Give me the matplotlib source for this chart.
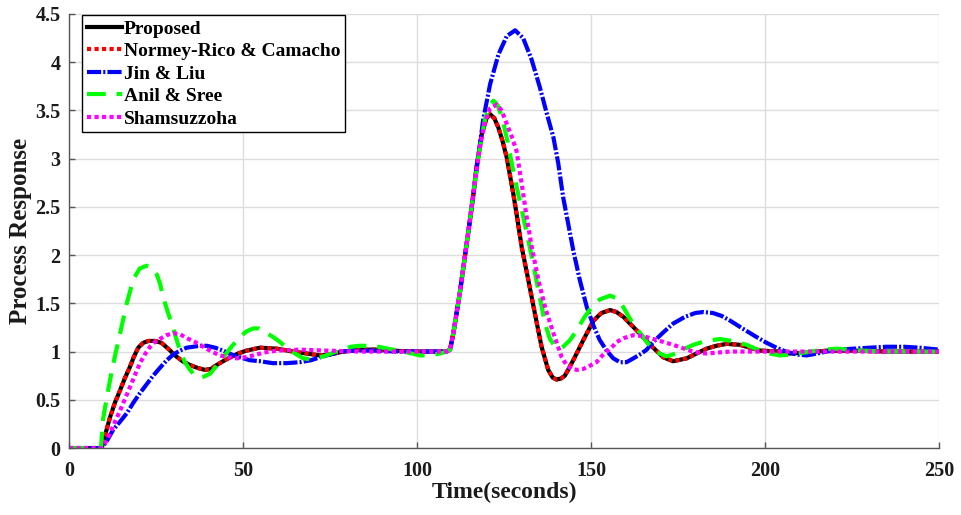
import matplotlib
matplotlib.use("Agg")
import matplotlib.pyplot as plt

# ---------------- data ----------------
t_prop = [0, 9.4, 10.5, 11.8, 13.2, 14.7, 16.0, 17.5, 18.7, 19.9, 21.3, 22.8, 24.7, 26.6, 28.5,
          30.5, 32.6, 34.8, 37.0, 39.1, 40.8, 42.4, 44.3, 46.3, 48.6, 51.0, 54.9, 59.7, 64.4,
          68.3, 72.0, 75.0, 78.8, 83.6, 88, 92, 100, 108.5, 109.5, 110.5, 112.4, 115.2, 116.2,
          117.1, 118.6, 120.0, 121.0, 122.2, 123.4, 124.6, 125.8, 127.7, 128.6, 130.1, 132.0,
          133.9, 135.8, 137.7, 139.0, 140.1, 141.3, 142.5, 144.9, 147.8, 150.7, 153.0, 155.5,
          157.3, 159.3, 163.1, 167.0, 170.8, 173.6, 177.5, 180.3, 183.2, 186, 189, 192.8, 195.7,
          198.6, 204.3, 207, 212, 218, 225, 235, 250]
y_prop = [0, 0, 0.15, 0.32, 0.47, 0.60, 0.72, 0.84, 0.95, 1.04, 1.09, 1.11, 1.11, 1.09, 1.03,
          0.96, 0.90, 0.86, 0.83, 0.81, 0.82, 0.86, 0.90, 0.94, 0.98, 1.01, 1.04, 1.03, 1.00,
          0.98, 0.96, 0.97, 1.00, 1.02, 1.02, 1.01, 1.0, 1.0, 1.02, 1.2, 1.63, 2.36, 2.63,
          2.91, 3.25, 3.42, 3.46, 3.42, 3.32, 3.18, 3.01, 2.63, 2.43, 2.08, 1.74,
          1.39, 1.05, 0.81, 0.73, 0.71, 0.72, 0.75, 0.91, 1.12, 1.32, 1.40, 1.43,
          1.41, 1.36, 1.22, 1.07, 0.94, 0.90, 0.93, 0.98, 1.03, 1.06, 1.08, 1.07, 1.04,
          1.01, 1.00, 0.98, 0.99, 1.01, 1.01, 1.0, 1.0]

t_nrc = list(t_prop)
y_nrc = list(y_prop)

t_jin = [0, 9.4, 11.0, 12.7, 14.6, 16.6, 18.5, 20.4, 22.3, 24.2, 26.1, 28.1, 30.0, 31.9, 33.8,
         35.7, 37.6, 39.6, 42.0, 44.3, 46.7, 49.1, 52.0, 54.9, 58.5, 62.5, 66.4, 69.5, 72.1,
         75.0, 77.9, 82, 87.4, 95, 108.5, 109.5, 110.5, 112.4, 115.2, 117.0, 119.0, 121.0,
         123.4, 125.8, 128.2, 130.5, 132.9, 135.3, 137.2, 139.2, 140.6, 142.0, 144.9, 146.8,
         148.8, 150.7, 152.5, 154.5, 156.4, 158.3, 160.2, 162.2, 164.5, 166.0, 167.9, 170.8,
         173.6, 177.0, 180.0, 182.3, 185.0, 187.5, 190.0, 193.5, 197.6, 200.5, 203.3, 206.0,
         209.0, 212.0, 215.0, 217.7, 221.0, 225.4, 230.0, 235.0, 240.0, 244.5, 250.0]
y_jin = [0, 0, 0.08, 0.19, 0.27, 0.36, 0.47, 0.57, 0.66, 0.75, 0.83, 0.91, 0.97, 1.01, 1.04,
         1.05, 1.06, 1.06, 1.04, 1.01, 0.97, 0.94, 0.91, 0.90, 0.88, 0.88, 0.89, 0.91, 0.94,
         0.97, 1.00, 1.01, 1.01, 1.0, 1.0, 1.02, 1.2, 1.63, 2.36, 2.85, 3.40, 3.77,
         4.08, 4.27, 4.33, 4.25, 4.03, 3.74, 3.48, 3.22, 2.95, 2.60, 2.05, 1.74,
         1.46, 1.27, 1.12, 1.01, 0.93, 0.89, 0.89, 0.93, 0.98, 1.02, 1.10, 1.20,
         1.29, 1.36, 1.40, 1.41, 1.40, 1.37, 1.32, 1.24, 1.15, 1.09, 1.04, 1.00,
         0.97, 0.96, 0.98, 1.00, 1.02, 1.03, 1.04, 1.05, 1.05, 1.04, 1.02]

t_anil = [0, 9.2, 9.8, 11.0, 12.3, 13.5, 14.7, 16.6, 18.5, 20.3, 22.3, 23.8, 25.2, 26.2, 27.1,
          28.3, 29.5, 30.7, 31.9, 33.3, 34.8, 36.0, 37.2, 38.8, 40.5, 42.4, 44.3, 46.7, 49.1,
          51.0, 53.0, 54.5, 56.0, 58.7, 60.6, 62.5, 65.4, 67.3, 69.5, 71.2, 73.1, 76.0, 78.5,
          81.0, 83.6, 87.0, 90.3, 93.0, 96.1, 98.5, 100.9, 103.5, 106.6, 108.5, 109.5, 110.5,
          112.4, 115.2, 116.5, 118.0, 119.5, 120.8, 122.0, 123.2, 124.5, 126.0, 127.5, 129.1,
          131.0, 133.0, 134.9, 136.8, 138.2, 139.7, 141.0, 142.0, 144.0, 145.9, 148.0, 150.2,
          152.5, 155.5, 157.5, 159.3, 161.2, 163.5, 166.0, 168.5, 171.7, 174.5, 177.0, 179.4,
          183.0, 187.1, 190.5, 194.7, 198.5, 201.4, 204.3, 208, 213.0, 217, 220.6, 224, 227.3,
          235, 250]
y_anil = [0, 0, 0.30, 0.55, 0.80, 1.00, 1.19, 1.50, 1.75, 1.86, 1.89, 1.87, 1.80, 1.70, 1.56,
          1.42, 1.29, 1.15, 1.01, 0.89, 0.81, 0.76, 0.73, 0.74, 0.77, 0.85, 0.94, 1.05, 1.15,
          1.21, 1.24, 1.24, 1.21, 1.15, 1.10, 1.04, 0.97, 0.93, 0.92, 0.93, 0.95, 0.99, 1.02,
          1.05, 1.06, 1.06, 1.04, 1.02, 1.00, 0.98, 0.96, 0.96, 0.98, 1.0, 1.02, 1.2,
          1.63, 2.36, 2.72, 3.10, 3.40, 3.56, 3.60, 3.55, 3.42, 3.18, 2.90, 2.63,
          2.32, 1.98, 1.63, 1.29, 1.13, 1.05, 1.03, 1.05, 1.12, 1.22, 1.35, 1.46,
          1.54, 1.58, 1.55, 1.46, 1.34, 1.22, 1.10, 1.00, 0.95, 0.98, 1.03, 1.07,
          1.11, 1.13, 1.11, 1.07, 1.01, 0.98, 0.96, 0.97, 1.0, 1.02, 1.03, 1.02, 1.01,
          1.0, 1.0]

t_sham = [0, 9.4, 10.5, 11.8, 13.2, 14.7, 16.1, 17.5, 19.0, 20.4, 21.8, 23.3, 24.7, 26.1, 28.0,
          30.0, 31.9, 33.8, 36.2, 38.6, 41.0, 43.4, 45.8, 48.2, 50.5, 53.0, 56.0, 59.7, 66.4,
          74.0, 83.6, 108.5, 109.5, 110.5, 112.4, 115.2, 116.5, 118.0, 119.5, 121.0, 122.9,
          124.3, 125.8, 127.2, 128.6, 130.0, 131.5, 133.0, 134.9, 136.8, 139.2, 141.6, 143.0,
          144.4, 146.0, 147.8, 149.5, 151.6, 153.0, 154.5, 156.4, 157.4, 159.5, 162.2, 165.0,
          167.9, 170.8, 173.6, 176, 178.4, 180.5, 183.2, 186.5, 190, 250]
y_sham = [0, 0, 0.06, 0.15, 0.27, 0.39, 0.51, 0.63, 0.76, 0.88, 0.97, 1.05, 1.10, 1.13, 1.17,
          1.19, 1.18, 1.14, 1.10, 1.05, 1.00, 0.96, 0.94, 0.93, 0.94, 0.96, 0.99, 1.01, 1.02,
          1.01, 1.0, 1.0, 1.02, 1.2, 1.63, 2.36, 2.72, 3.10, 3.38, 3.52, 3.56,
          3.50, 3.36, 3.23, 3.08, 2.76, 2.40, 2.08, 1.74, 1.46, 1.19, 0.94, 0.86,
          0.82, 0.81, 0.82, 0.85, 0.89, 0.95, 1.00, 1.06, 1.10, 1.14, 1.17, 1.16,
          1.13, 1.10, 1.07, 1.04, 1.01, 0.99, 0.98, 0.99, 1.0, 1.0]

labels = ["Proposed", "Normey-Rico & Camacho", "Jin & Liu", "Anil & Sree", "Shamsuzzoha"]
x_ticks = [0, 50, 100, 150, 200, 250]
y_ticks = [0, 0.5, 1, 1.5, 2, 2.5, 3, 3.5, 4, 4.5]
y_ticklabels = ["0", "0.5", "1", "1.5", "2", "2.5", "3", "3.5", "4", "4.5"]

# ---------------- figure ----------------
plt.rcParams['font.family'] = ['Liberation Serif', 'DejaVu Serif']
plt.rcParams['font.weight'] = 'bold'

txt_color = '#1a1a1a'
fig = plt.figure(figsize=(9.62, 5.15), dpi=100)
ax = fig.add_axes([0.0717, 0.130, 0.9044, 0.843])

lw = 3.0
ax.plot(t_prop, y_prop, color='black', lw=lw, solid_joinstyle='round', label=labels[0])
ax.plot(t_nrc, y_nrc, color='red', lw=lw, linestyle=(0, (1.0, 0.8)),
        dash_capstyle='butt', label=labels[1])
ax.plot(t_jin, y_jin, color='#0000ff', lw=lw, linestyle=(0, (3.4, 0.5, 0.5, 0.5)),
        dash_capstyle='butt', label=labels[2])
ax.plot(t_anil, y_anil, color='#00ff00', lw=lw, linestyle=(0, (4.5, 2.6)),
        dash_capstyle='butt', label=labels[3])
ax.plot(t_sham, y_sham, color='#ff00ff', lw=lw, linestyle=(0, (1.0, 0.8)),
        dash_capstyle='butt', label=labels[4])

ax.set_xlim(0, 250)
ax.set_ylim(0, 4.5)
ax.set_xticks(x_ticks)
ax.set_yticks(y_ticks)
ax.set_yticklabels(y_ticklabels)
ax.grid(True, color='#dcdcdc', linewidth=1.0)
ax.set_axisbelow(True)
for s in ['top', 'right']:
    ax.spines[s].set_visible(False)
for s in ['left', 'bottom']:
    ax.spines[s].set_color('#555555')
    ax.spines[s].set_linewidth(1.0)
ax.tick_params(direction='in', length=4, width=1, colors='#555555', labelcolor=txt_color,
               labelsize=14.5)
ax.tick_params(axis='x', pad=9)
ax.tick_params(axis='y', pad=6)
for lab in ax.get_xticklabels() + ax.get_yticklabels():
    lab.set_fontweight('bold')

ax.set_xlabel("Time(seconds)", fontsize=17, fontweight='bold', color=txt_color, labelpad=1)
ax.set_ylabel("Process Response", fontsize=18, fontweight='bold', color=txt_color)
ax.yaxis.set_label_coords(-0.043, 0.5)

leg = ax.legend(loc='upper left', bbox_to_anchor=(0.015, 0.997), fontsize=14,
                frameon=True, fancybox=False, edgecolor='black', framealpha=1,
                handlelength=1.8, handletextpad=0.1, borderpad=0.25, labelspacing=0.25,
                borderaxespad=0.0)
leg.get_frame().set_linewidth(1.0)
for txt in leg.get_texts():
    txt.set_fontweight('bold')
    txt.set_color('black')

fig.savefig("out.png", dpi=100)
